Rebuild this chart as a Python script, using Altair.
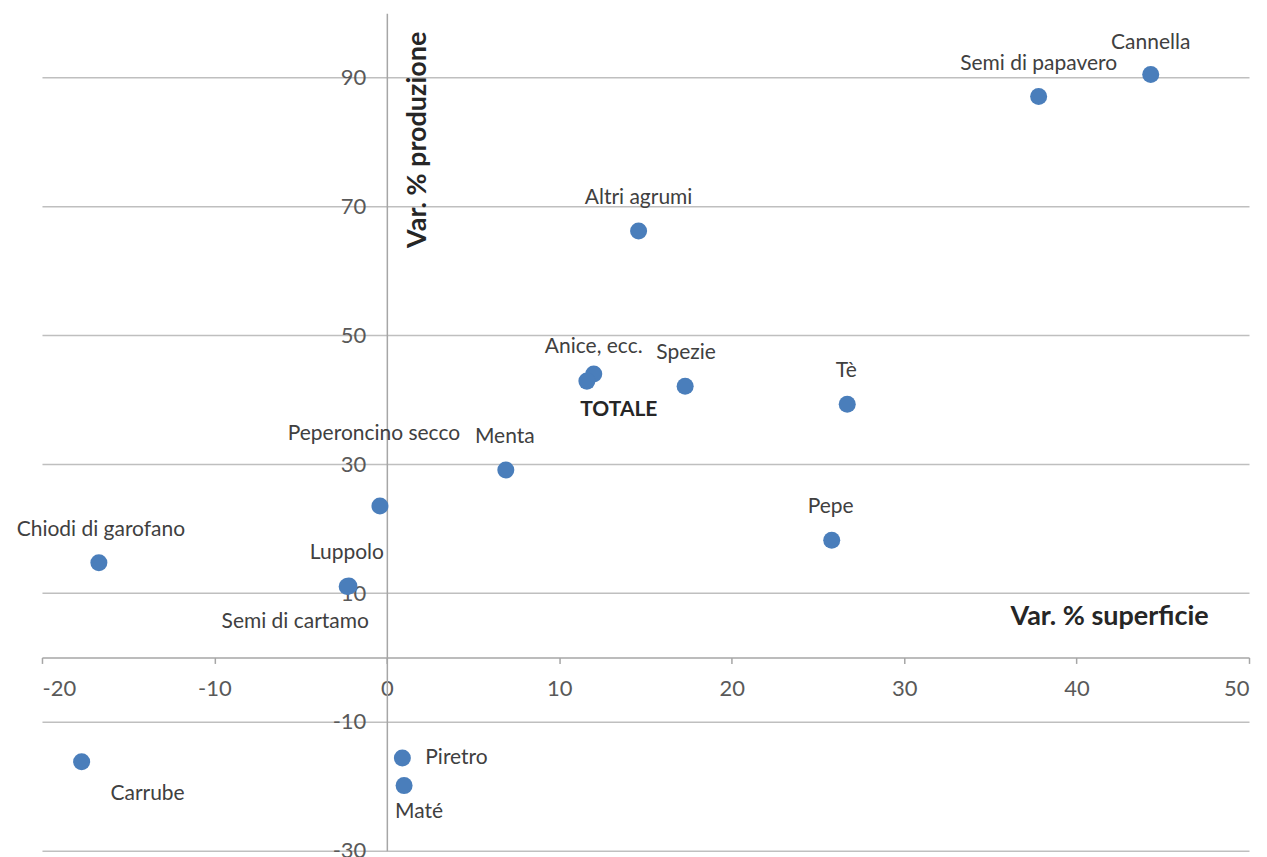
import altair as alt
import pandas as pd

names = ["Cannella", "Semi di papavero", "Altri agrumi", "Anice, ecc.", "TOTALE",
         "Spezie", "Tè", "Menta", "Peperoncino secco", "Pepe",
         "Chiodi di garofano", "Luppolo", "Semi di cartamo", "Carrube", "Piretro", "Maté"]
superficie = [44.3, 37.8, 14.6, 12.0, 11.6, 17.3, 26.7, 6.9, -0.4, 25.8,
              -16.7, -2.2, -2.3, -17.7, 0.9, 1.0]
produzione = [90.5, 87.1, 66.2, 44.0, 42.9, 42.1, 39.3, 29.1, 23.5, 18.2,
              14.7, 11.1, 11.0, -16.2, -15.6, -19.9]
x_ticks = [-20, -10, 0, 10, 20, 30, 40, 50]
y_ticks = [-30, -10, 10, 30, 50, 70, 90]

df = pd.DataFrame({"name": names, "sup": superficie, "prod": produzione})

W, H = 1208, 838
XD = [-20, 50]
YD = [-30, 100]
x_off = -W * (0 - XD[0]) / (XD[1] - XD[0])
y_off = -(H - H * (YD[1] - 0) / (YD[1] - YD[0]))

xs = alt.Scale(domain=XD, nice=False, zero=False)
ys = alt.Scale(domain=YD, nice=False, zero=False)

LBL = 22
points = alt.Chart(df).mark_circle(size=290, opacity=1, color="#4A7EBB").encode(
    x=alt.X("sup:Q", scale=xs, axis=alt.Axis(
        values=x_ticks, orient="bottom", offset=y_off, grid=False,
        ticks=True, tickSize=6, tickColor="#a6a6a6", tickWidth=1.5,
        domainColor="#a6a6a6", domainWidth=1.5,
        labelExpr="'' + datum.value",
        labelPadding=15, labelFontSize=LBL, labelColor="#595959", labelFont="Lato",
        title="Var. % superficie", titleFont="Lato", titleFontSize=27, titleFontWeight="bold",
        titleColor="#262626", titleX=1068, titleY=-41, titleAlign="center",
        titleBaseline="middle")),
    y=alt.Y("prod:Q", scale=ys, axis=alt.Axis(
        values=y_ticks, orient="left", offset=x_off, grid=True,
        gridColor="#bfbfbf", gridWidth=1.5,
        ticks=False, tickSize=0, domainColor="#a6a6a6", domainWidth=1.5,
        labelExpr="'' + datum.value",
        labelPadding=21, labelFontSize=LBL, labelColor="#595959", labelFont="Lato",
        title="Var. % produzione", titleFont="Lato", titleFontSize=27, titleFontWeight="bold",
        titleColor="#262626", titleAngle=270, titleX=31, titleY=126, titleAlign="center",
        titleBaseline="middle")),
)

label_pos = {
    "Cannella": (0, -32, "center", "normal"),
    "Semi di papavero": (0, -32, "center", "normal"),
    "Altri agrumi": (0, -33, "center", "normal"),
    "Anice, ecc.": (0, -27, "center", "normal"),
    "TOTALE": (32, 29, "center", "bold"),
    "Spezie": (1, -33, "center", "normal"),
    "Tè": (-1, -33, "center", "normal"),
    "Menta": (-1, -33, "center", "normal"),
    "Peperoncino secco": (-6, -72, "center", "normal"),
    "Pepe": (-1, -33, "center", "normal"),
    "Chiodi di garofano": (2, -33, "center", "normal"),
    "Luppolo": (-2, -33, "center", "normal"),
    "Semi di cartamo": (-52, 35, "center", "normal"),
    "Carrube": (66, 32, "center", "normal"),
    "Piretro": (23, 0, "left", "normal"),
    "Maté": (15, 26, "center", "normal"),
}

layers = [points]
for nm, (dx, dy, al, wt) in label_pos.items():
    layers.append(
        alt.Chart(df).transform_filter(alt.datum.name == nm).mark_text(
            dx=dx, dy=dy, align=al, baseline="middle", font="Lato", fontSize=21,
            fontWeight=wt, color="#404040" if wt == "normal" else "#262626"
        ).encode(
            x=alt.X("sup:Q", scale=xs),
            y=alt.Y("prod:Q", scale=ys),
            text="name:N",
        )
    )

chart = alt.layer(*layers).properties(
    width=W, height=H,
    background="white",
    padding={"left": 34, "top": 5, "right": 10, "bottom": 10},
    autosize=alt.AutoSizeParams(type="none"),
).configure_view(strokeWidth=0, stroke="transparent")

chart.save("out.html", embed_options={"renderer": "svg", "actions": False})
